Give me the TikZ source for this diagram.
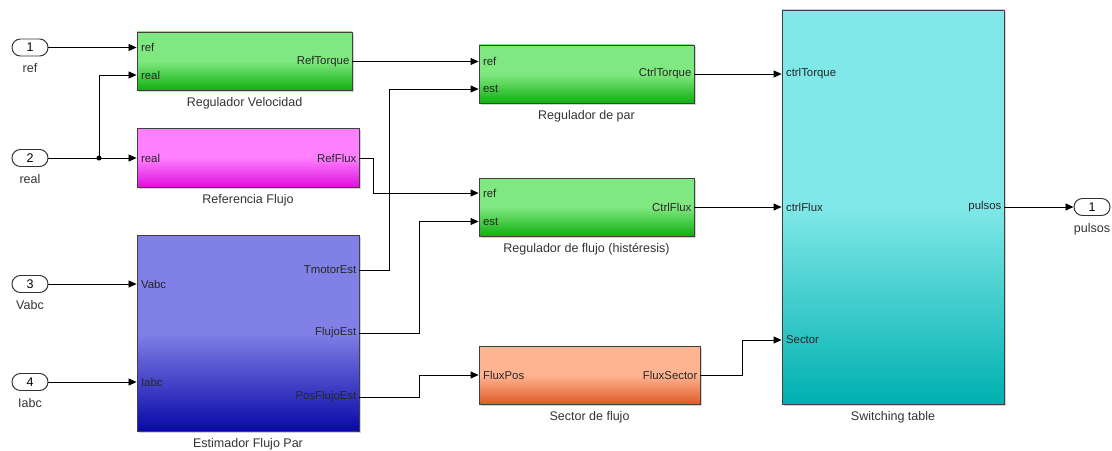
\documentclass[tikz,border=0pt]{standalone}
\usepackage{fontspec}
\setmainfont{Liberation Sans}
\usetikzlibrary{positioning,arrows.meta,shadows}

\definecolor{grntop}{RGB}{128,232,128}
\definecolor{grnbot}{RGB}{16,176,16}
\definecolor{magtop}{RGB}{255,128,255}
\definecolor{magbot}{RGB}{222,16,222}
\definecolor{blutop}{RGB}{128,128,230}
\definecolor{blubot}{RGB}{8,8,168}
\definecolor{orgtop}{RGB}{255,180,145}
\definecolor{orgbot}{RGB}{222,92,40}
\definecolor{cyntop}{RGB}{128,232,232}
\definecolor{cynbot}{RGB}{0,176,176}

\begin{document}
\begin{tikzpicture}[x=0.25mm, y=-0.25mm,
  blk/.style={draw=black!75, line width=0.6pt, inner sep=0pt,
    drop shadow={shadow xshift=0.5mm, shadow yshift=-0.5mm, fill=black!35, opacity=0.5}},
  grn/.style={blk, top color=grntop, bottom color=grnbot, middle color=grntop},
  mag/.style={blk, top color=magtop, bottom color=magbot, middle color=magtop},
  blu/.style={blk, top color=blutop, bottom color=blubot, middle color=blutop},
  org/.style={blk, top color=orgtop, bottom color=orgbot, middle color=orgtop},
  cyn/.style={blk, top color=cyntop, bottom color=cynbot, middle color=cyntop},
  blkname/.style={font=\fontsize{8.9}{10}\selectfont, text=black!80, inner sep=1pt},
  portin/.style={font=\fontsize{8.1}{9}\selectfont, text=black!85, anchor=west,
    inner xsep=3pt, inner ysep=0pt},
  portout/.style={portin, anchor=east, inner xsep=2pt},
  iopill/.style={draw=black!80, line width=0.7pt, fill=white, rounded corners=2.1mm,
    minimum width=9mm, minimum height=4.25mm, inner sep=0pt,
    font=\fontsize{8.9}{10}\selectfont},
  wire/.style={line width=0.6pt, -{Triangle[length=2mm, width=1.75mm]}}]
\useasboundingbox (0,0) rectangle (1112,450);

\node[iopill] (in1) at (30,47.5) {1};
\node[blkname, below=4pt of in1] {ref};
\node[iopill] (in2) at (30,158) {2};
\node[blkname, below=4pt of in2] {real};
\node[iopill] (in3) at (30,284) {3};
\node[blkname, below=4pt of in3] {Vabc};
\node[iopill] (in4) at (30,382) {4};
\node[blkname, below=4pt of in4] {Iabc};

\node[grn, minimum width=53.75mm, minimum height=14.5mm] (rv) at (244.5,61) {};
\node[blkname, below=4pt of rv] {Regulador Velocidad};
\node[portin] (rvref) at (rv.west |- 0,47.5) {ref};
\node[portin] (rvreal) at (rv.west |- 0,75) {real};
\node[portout] (rvout) at (rv.east |- 0,61.5) {RefTorque};

\node[mag, minimum width=55.5mm, minimum height=14.75mm] (rf) at (248,157.5) {};
\node[blkname, below=4pt of rf] {Referencia Flujo};
\node[portin] (rfreal) at (rf.west |- 0,158) {real};
\node[portout] (rfout) at (rf.east |- 0,158) {RefFlux};

\node[blu, minimum width=55.5mm, minimum height=49mm] (est) at (248,333) {};
\node[blkname, below=4pt of est] {Estimador Flujo Par};
\node[portin] (estv) at (est.west |- 0,284) {Vabc};
\node[portin] (esti) at (est.west |- 0,382) {Iabc};
\node[portout] (esttm) at (est.east |- 0,270) {TmotorEst};
\node[portout] (estfl) at (est.east |- 0,333) {FlujoEst};
\node[portout] (estpos) at (est.east |- 0,397) {PosFlujoEst};

\node[grn, minimum width=53.75mm, minimum height=14.5mm] (rp) at (586.5,74) {};
\node[blkname, below=4pt of rp] {Regulador de par};
\node[portin] (rpref) at (rp.west |- 0,61.5) {ref};
\node[portin] (rpest) at (rp.west |- 0,89) {est};
\node[portout] (rpout) at (rp.east |- 0,74) {CtrlTorque};

\node[grn, minimum width=53.75mm, minimum height=14.5mm] (rfl) at (586.5,207) {};
\node[blkname, below=4pt of rfl] {Regulador de flujo (histéresis)};
\node[portin] (rflref) at (rfl.west |- 0,193) {ref};
\node[portin] (rflest) at (rfl.west |- 0,221.5) {est};
\node[portout] (rflout) at (rfl.east |- 0,207) {CtrlFlux};

\node[org, minimum width=55.25mm, minimum height=14.5mm] (sf) at (589.5,375) {};
\node[blkname, below=4pt of sf] {Sector de flujo};
\node[portin] (sfin) at (sf.west |- 0,375) {FluxPos};
\node[portout] (sfout) at (sf.east |- 0,375) {FluxSector};

\node[cyn, minimum width=55.5mm, minimum height=98.5mm] (st) at (893,207) {};
\node[blkname, below=4pt of st] {Switching table};
\node[portin] (sttq) at (st.west |- 0,74) {ctrlTorque};
\node[portin] (stfl) at (st.west |- 0,207) {ctrlFlux};
\node[portin] (stsec) at (st.west |- 0,340) {Sector};
\node[portout] (stout) at (st.east |- 0,207) {pulsos};

\node[iopill] (out1) at (1092,207) {1};
\node[blkname, below=4pt of out1] {pulsos};

\coordinate (jreal) at (99,158);
\draw[wire] (in1) -- (rv.west |- rvref);
\draw[wire] (in2) -- (rf.west |- rfreal);
\draw[wire] (jreal) |- (rv.west |- rvreal);
\fill (jreal) circle (1.8pt);
\draw[wire] (in3) -- (est.west |- estv);
\draw[wire] (in4) -- (est.west |- esti);
\draw[wire] (rv.east |- rvout) -- (rp.west |- rpref);
\draw[wire] (rf.east |- rfout) -- ++(14,0) |- (rfl.west |- rflref);
\draw[wire] (est.east |- esttm) -- ++(30,0) |- (rp.west |- rpest);
\draw[wire] (est.east |- estfl) -- ++(60,0) |- (rfl.west |- rflest);
\draw[wire] (est.east |- estpos) -- ++(60,0) |- (sf.west |- sfin);
\draw[wire] (rp.east |- rpout) -- (st.west |- sttq);
\draw[wire] (rfl.east |- rflout) -- (st.west |- stfl);
\draw[wire] (sf.east |- sfout) -- ++(42,0) |- (st.west |- stsec);
\draw[wire] (st.east |- stout) -- (out1);
\end{tikzpicture}
\end{document}
